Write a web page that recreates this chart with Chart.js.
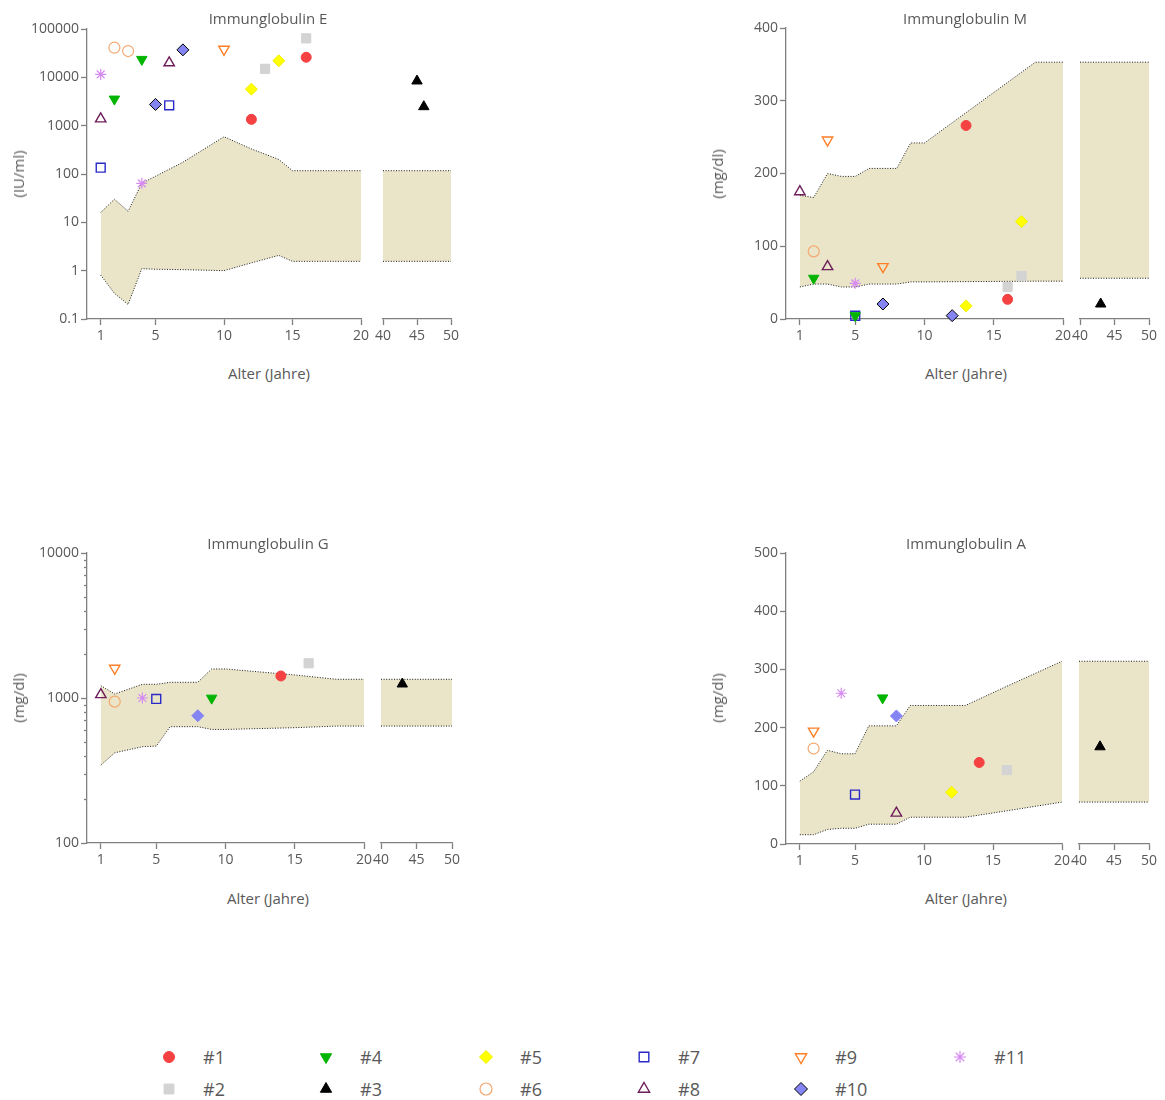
<!DOCTYPE html>
<html lang="de">
<head>
<meta charset="utf-8">
<title>Immunglobuline</title>
<script src="https://cdn.jsdelivr.net/npm/chart.js@4.4.1/dist/chart.umd.min.js"></script>
<style>
  html, body { margin: 0; padding: 0; background: #fff; }
  #page { position: relative; width: 1165px; height: 1100px; font-family: 'Open Sans', sans-serif; color: #595959; }
  #page canvas { position: absolute; }
  .label { position: absolute; transform: translate(-50%, -50%); white-space: nowrap; font-size: 15px; }
  .ylabel { position: absolute; transform: translate(-50%, -50%) rotate(-90deg); white-space: nowrap; font-size: 15px; }
  .legend-text { position: absolute; transform: translateY(-50%); font-size: 18px; color: #595959; }
</style>
</head>
<body>
<div id="page"></div>
<script>
// patients and their order in the legend (column by column)
const patients = ['#1', '#2', '#3', '#4', '#5', '#6', '#7', '#8', '#9', '#10', '#11'];
const legendColumns = [['#1', '#2'], ['#4', '#3'], ['#5', '#6'], ['#7', '#8'], ['#9', '#10'], ['#11']];

// x axis: children 0-20 years, adults 40-50 years
const childAgeTicks = [1, 5, 10, 15, 20];
const adultAgeTicks = [40, 45, 50];
const adultAges = [40, 50];

// y axis tick values
const igeTicks = [0.1, 1, 10, 100, 1000, 10000, 100000];
const igmTicks = [0, 100, 200, 300, 400];
const iggTicks = [100, 200, 300, 400, 500, 600, 700, 800, 900, 1000, 2000, 3000, 4000, 5000, 6000, 7000, 8000, 9000, 10000];
const igaTicks = [0, 100, 200, 300, 400, 500];

// reference ranges (shaded band)
const igeBandAges = [1, 2, 3, 4, 5, 7, 10, 12, 14, 15, 20];
const igeBandLow = [0.81, 0.34, 0.2, 1.1, 1.07, 1.05, 1.0, 1.45, 2.07, 1.56, 1.56];
const igeBandHigh = [16, 30, 17, 64, 90, 175, 590, 330, 200, 117, 117];
const igeAdultLow = 1.56, igeAdultHigh = 117;

const igmBandAges = [1, 2, 3, 4, 5, 6, 8, 9, 10, 18, 20];
const igmBandLow = [44, 48, 48, 44, 44, 48, 48, 51, 51, 52, 52];
const igmBandHigh = [170, 167, 200, 196, 196, 207, 207, 242, 242, 353, 353];
const igmAdultLow = 56, igmAdultHigh = 353;

const iggBandAges = [1, 2, 4, 5, 6, 8, 9, 10, 15, 18, 20];
const iggBandLow = [344, 419, 461, 466, 634, 634, 607, 607, 624, 640, 640];
const iggBandHigh = [1217, 1066, 1243, 1243, 1283, 1283, 1586, 1586, 1442, 1346, 1346];
const iggAdultLow = 640, iggAdultHigh = 1346;

const igaBandAges = [1, 2, 3, 4, 5, 6, 8, 9, 13, 16, 20];
const igaBandLow = [16, 16, 25, 27, 27, 34, 34, 46, 46, 57, 72];
const igaBandHigh = [108, 124, 161, 155, 155, 203, 203, 238, 238, 271, 314];
const igaAdultLow = 72, igaAdultHigh = 314;

// measurements: [patient, age, value]
const igePoints = [
    ['#1', 12, 1350], ['#1', 16, 26000],
    ['#2', 13, 15000], ['#2', 16, 64000],
    ['#3', 45, 8400], ['#3', 46, 2470],
    ['#4', 2, 3550], ['#4', 4, 23500],
    ['#5', 12, 5700], ['#5', 14, 22000],
    ['#6', 2, 41000], ['#6', 3, 35000],
    ['#7', 1, 135], ['#7', 6, 2640],
    ['#8', 1, 1380], ['#8', 6, 20000],
    ['#9', 10, 38000],
    ['#10', 5, 2750], ['#10', 7, 37000],
    ['#11', 1, 11500], ['#11', 4, 64]
];
const igmPoints = [
    ['#1', 13, 266], ['#1', 16, 27],
    ['#2', 16, 44], ['#2', 17, 59],
    ['#3', 43, 20.6],
    ['#4', 2, 56], ['#4', 5, 4.6],
    ['#7', 5, 4.5],
    ['#5', 13, 18], ['#5', 17, 134],
    ['#6', 2, 93],
    ['#8', 1, 175], ['#8', 3, 72],
    ['#9', 3, 246], ['#9', 7, 72],
    ['#10', 7, 20.6], ['#10', 12, 4.6],
    ['#11', 5, 49]
];
const iggPoints = [
    ['#1', 14, 1419],
    ['#2', 16, 1736],
    ['#3', 43, 1249],
    ['#4', 9, 998],
    ['#6', 2, 944],
    ['#7', 5, 985],
    ['#8', 1, 1055],
    ['#9', 2, 1604],
    ['#10', 8, 755],
    ['#11', 4, 1000]
];
const igaPoints = [
    ['#1', 14, 140],
    ['#2', 16, 127],
    ['#3', 43, 167],
    ['#4', 7, 251],
    ['#5', 12, 89],
    ['#6', 2, 164],
    ['#7', 5, 85],
    ['#8', 8, 53],
    ['#9', 2, 194],
    ['#10', 8, 220],
    ['#11', 4, 259]
];

// marker look per patient
const markers = {
    '#1': { pointStyle: 'circle', radius: 5, fill: '#f54141', stroke: '#f54141', width: 1 },
    '#2': { pointStyle: 'rect', radius: 6.5, fill: '#d3d3d3', stroke: '#d3d3d3', width: 1 },
    '#3': { pointStyle: 'triangle', radius: 6, fill: '#000000', stroke: '#000000', width: 1 },
    '#4': { pointStyle: 'triangle', radius: 6, rotation: 180, fill: '#00b400', stroke: '#00b400', width: 1 },
    '#5': { pointStyle: 'rectRot', radius: 6, fill: '#ffff00', stroke: '#f0f000', width: 1 },
    '#6': { pointStyle: 'circle', radius: 5.5, fill: 'rgba(0,0,0,0)', stroke: '#f4a870', width: 1.2 },
    '#7': { pointStyle: 'rect', radius: 6.3, fill: 'rgba(0,0,0,0)', stroke: '#2a2ac8', width: 1.4 },
    '#8': { pointStyle: 'triangle', radius: 6, fill: 'rgba(0,0,0,0)', stroke: '#6e1e5a', width: 1.4 },
    '#9': { pointStyle: 'triangle', radius: 6, rotation: 180, fill: 'rgba(0,0,0,0)', stroke: '#ff7f27', width: 1.4 },
    '#10': { pointStyle: 'rectRot', radius: 6, fill: '#8484f2', stroke: '#8484f2', width: 1 },
    '#11': { pointStyle: 'star', radius: 5.5, fill: 'rgba(0,0,0,0)', stroke: '#d68af2', width: 1.2 }
};

const bandFill = '#eae5c9';
const axisColor = '#808080';
const textColor = '#595959';
Chart.defaults.font.family = "'Open Sans', sans-serif";
Chart.defaults.color = textColor;

const panels = [
    {
        title: 'Immunglobulin E', yTitle: '(IU/ml)', yType: 'logarithmic', yMin: 0.1, yMax: 100000, yTicks: igeTicks,
        ages: igeBandAges, low: igeBandLow, high: igeBandHigh, adultLow: igeAdultLow, adultHigh: igeAdultHigh,
        points: igePoints, diamondBorder: '#000',
        left: [87, 361], right: [383, 451], top: 29, bottom: 319,
        titleAt: [268, 18], xTitleAt: [269, 373], yTitleAt: [18, 174]
    },
    {
        title: 'Immunglobulin M', yTitle: '(mg/dl)', yType: 'linear', yMin: 0, yMax: 400, yTicks: igmTicks,
        ages: igmBandAges, low: igmBandLow, high: igmBandHigh, adultLow: igmAdultLow, adultHigh: igmAdultHigh,
        points: igmPoints, diamondBorder: '#000',
        left: [786, 1063], right: [1080, 1149], top: 28, bottom: 319,
        titleAt: [965, 18], xTitleAt: [966, 373], yTitleAt: [717, 174]
    },
    {
        title: 'Immunglobulin G', yTitle: '(mg/dl)', yType: 'logarithmic', yMin: 100, yMax: 10000, yTicks: iggTicks,
        ages: iggBandAges, low: iggBandLow, high: iggBandHigh, adultLow: iggAdultLow, adultHigh: iggAdultHigh,
        points: iggPoints,
        left: [87, 364], right: [381, 452], top: 553, bottom: 843,
        titleAt: [268, 543], xTitleAt: [268, 898], yTitleAt: [18, 698]
    },
    {
        title: 'Immunglobulin A', yTitle: '(mg/dl)', yType: 'linear', yMin: 0, yMax: 500, yTicks: igaTicks,
        ages: igaBandAges, low: igaBandLow, high: igaBandHigh, adultLow: igaAdultLow, adultHigh: igaAdultHigh,
        points: igaPoints,
        left: [786, 1062], right: [1079, 1149], top: 553, bottom: 844,
        titleAt: [966, 543], xTitleAt: [966, 898], yTitleAt: [717, 698]
    }
];

const page = document.getElementById('page');

function addText(cls, text, [x, y]) {
    const el = document.createElement('div');
    el.className = cls;
    el.textContent = text;
    el.style.left = x + 'px';
    el.style.top = y + 'px';
    page.appendChild(el);
}

function isMajor(p, v) {
    if (p.yType !== 'logarithmic') return true;
    const exp = Math.log10(v);
    return Math.abs(exp - Math.round(exp)) < 1e-9;
}

// short tick marks for the log minor values (Chart.js has one tick length per axis)
const minorTicks = {
    id: 'minorTicks',
    afterDraw(chart) {
        const y = chart.scales.y;
        if (!y || !y.options.display || y.type !== 'logarithmic') return;
        const ctx = chart.ctx;
        ctx.save();
        ctx.strokeStyle = axisColor;
        ctx.lineWidth = 1.3;
        y.ticks.forEach(t => {
            if (t.label !== '') return;
            const py = Math.round(y.getPixelForValue(t.value)) + 0.5;
            ctx.beginPath();
            ctx.moveTo(y.right - 3, py);
            ctx.lineTo(y.right, py);
            ctx.stroke();
        });
        ctx.restore();
    }
};

// band goes underneath the markers: higher order is drawn first
function bandDatasets(xs, low, high) {
    const line = { type: 'line', showLine: true, pointRadius: 0, borderColor: '#1a1a1a', borderWidth: 1, borderDash: [1, 1.6], tension: 0, order: 10 };
    return [
        { ...line, data: xs.map((x, i) => ({ x, y: low[i] })), fill: false },
        { ...line, data: xs.map((x, i) => ({ x, y: high[i] })), fill: '-1', backgroundColor: bandFill }
    ];
}

function pointDatasets(p, isChild) {
    const order = [];
    p.points.forEach(([id]) => { if (!order.includes(id)) order.push(id); });
    return order.map(id => {
        const m = markers[id];
        const rows = p.points.filter(r => r[0] === id && (isChild ? r[1] <= 20 : r[1] >= 40));
        const border = id === '#10' && p.diamondBorder ? p.diamondBorder : m.stroke;
        return {
            label: id,
            order: 0,
            data: rows.map(r => ({ x: r[1], y: r[2] })),
            pointStyle: m.pointStyle,
            pointRadius: m.radius,
            pointRotation: m.rotation || 0,
            pointBackgroundColor: m.fill,
            pointBorderColor: border,
            pointBorderWidth: m.width,
            clip: false
        };
    });
}

function makeChart(p, isChild) {
    const [l, r] = isChild ? p.left : p.right;
    const padL = isChild ? 0 : 14;
    const yW = isChild ? 80 : 0;
    const cx = l - yW - padL;
    const cw = r + 16 - cx;
    const cy = p.top - 12;
    const ch = p.bottom + 34 - cy;
    const canvas = document.createElement('canvas');
    canvas.width = cw;
    canvas.height = ch;
    canvas.style.left = cx + 'px';
    canvas.style.top = cy + 'px';
    canvas.style.width = cw + 'px';
    canvas.style.height = ch + 'px';
    page.appendChild(canvas);

    const band = isChild ? bandDatasets(p.ages, p.low, p.high)
                         : bandDatasets(adultAges, [p.adultLow, p.adultLow], [p.adultHigh, p.adultHigh]);
    const xTicks = isChild ? childAgeTicks : adultAgeTicks;

    new Chart(canvas, {
        type: 'scatter',
        data: { datasets: [...band, ...pointDatasets(p, isChild)] },
        plugins: [minorTicks],
        options: {
            responsive: false,
            animation: false,
            events: [],
            layout: { padding: { left: padL, right: 16, top: 12, bottom: 0 } },
            plugins: { legend: { display: false }, tooltip: { enabled: false } },
            scales: {
                x: {
                    type: 'linear',
                    min: isChild ? 0 : 40,
                    max: isChild ? 20 : 50,
                    afterBuildTicks: s => { s.ticks = xTicks.map(v => ({ value: v })); },
                    afterFit: s => { s.height = 34; },
                    grid: { drawOnChartArea: false, drawTicks: true, tickLength: 6, tickColor: axisColor, tickWidth: 1.3 },
                    border: { color: axisColor, width: 1.3 },
                    ticks: { autoSkip: false, maxRotation: 0, padding: 3, color: textColor, font: { size: 14 }, callback: v => String(v) }
                },
                y: {
                    type: p.yType,
                    display: isChild,
                    min: p.yMin,
                    max: p.yMax,
                    afterBuildTicks: s => { s.ticks = p.yTicks.map(v => ({ value: v })); },
                    afterFit: s => { s.width = yW; },
                    grid: {
                        drawOnChartArea: false, drawTicks: true, tickLength: 6, tickWidth: 1.3,
                        tickColor: c => (c.tick && !isMajor(p, c.tick.value)) ? 'rgba(0,0,0,0)' : axisColor
                    },
                    border: { color: axisColor, width: 1.3 },
                    ticks: { autoSkip: false, padding: 2, color: textColor, font: { size: 14 }, callback: v => isMajor(p, v) ? String(v) : '' }
                }
            }
        }
    });
}

panels.forEach(p => {
    makeChart(p, true);
    makeChart(p, false);
    addText('label', p.title, p.titleAt);
    addText('label', 'Alter (Jahre)', p.xTitleAt);
    addText('ylabel', p.yTitle, p.yTitleAt);
});

// legend
const legendX = [169, 326, 486, 644, 801, 960];
const legendY = [1057, 1089];
legendColumns.forEach((col, ci) => {
    col.forEach((id, ri) => {
        const x = legendX[ci], y = legendY[ri];
        const m = markers[id];
        const c = document.createElement('canvas');
        c.width = 24; c.height = 24;
        c.style.left = (x - 12) + 'px';
        c.style.top = (y - 12) + 'px';
        page.appendChild(c);
        const ctx = c.getContext('2d');
        ctx.fillStyle = m.fill;
        ctx.strokeStyle = id === '#10' ? '#000' : m.stroke;
        ctx.lineWidth = m.width;
        Chart.helpers.drawPoint(ctx, { pointStyle: m.pointStyle, radius: m.radius + 0.5, rotation: m.rotation || 0, borderWidth: m.width }, 12, 12);
        addText('legend-text', id, [x + 34, y]);
    });
});
</script>
</body>
</html>
